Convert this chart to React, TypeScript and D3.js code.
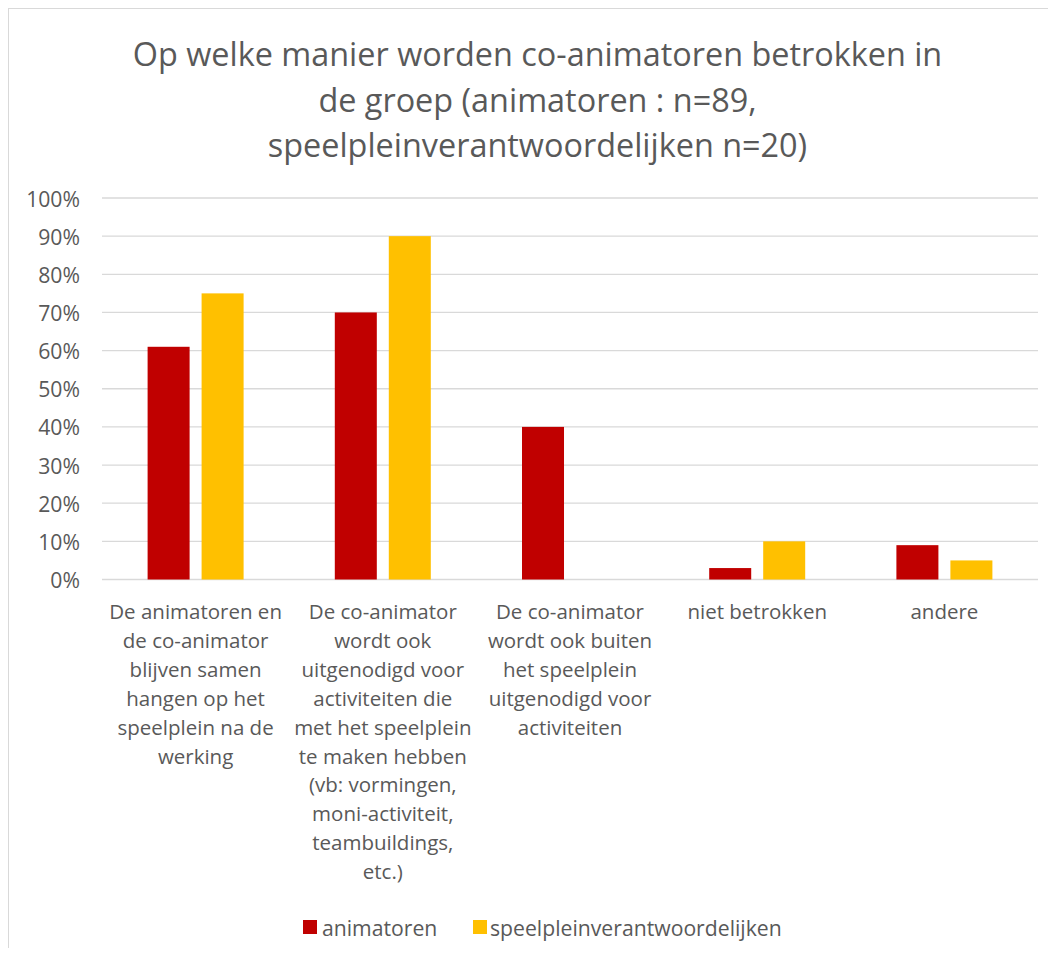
import React from "react";
import * as d3 from "d3";

const categories: string[][] = [
  ["De animatoren en", "de co-animator", "blijven samen", "hangen op het", "speelplein na de", "werking"],
  ["De co-animator", "wordt ook", "uitgenodigd voor", "activiteiten die", "met het speelplein", "te maken hebben", "(vb: vormingen,", "moni-activiteit,", "teambuildings,", "etc.)"],
  ["De co-animator", "wordt ook buiten", "het speelplein", "uitgenodigd voor", "activiteiten"],
  ["niet betrokken"],
  ["andere"],
];
const seriesNames = ["animatoren", "speelpleinverantwoordelijken"];
const animatoren = [0.61, 0.70, 0.40, 0.03, 0.09];
const verantwoordelijken = [0.75, 0.90, 0, 0.10, 0.05];
const seriesColors = ["#C00000", "#FFC000"];
const yTicks = [0, 0.1, 0.2, 0.3, 0.4, 0.5, 0.6, 0.7, 0.8, 0.9, 1.0];
const titleLines = [
  "Op welke manier worden co-animatoren betrokken in",
  "de groep (animatoren : n=89,",
  "speelpleinverantwoordelijken n=20)",
];

const FONT = "'Open Sans', sans-serif";
const TEXT = "#595959";

export default function App() {
  const W = 1040;
  const H = 940;
  const left = 94, right = 1030, top = 190, bottom = 571.5;
  const ids = categories.map((_, i) => String(i));
  const x0 = d3.scaleBand<string>().domain(ids).range([left, right]).padding(0);
  const groupW = 96;
  const x1 = d3.scaleBand<string>().domain(seriesNames).range([0, groupW]).paddingInner(0.222).paddingOuter(0);
  const y = d3.scaleLinear().domain([0, 1]).range([bottom, top]);
  const data = [animatoren, verantwoordelijken];
  const fmt = d3.format(".0%");
  const lineH = 28.9;

  return (
    <svg width={W} height={H} style={{ display: "block" }} fontFamily={FONT}>
      <rect x={0.5} y={0.5} width={1058} height={970} fill="#fff" stroke="#d9d9d9" strokeWidth={1} />
      {titleLines.map((t, i) => (
        <text key={i} x={529.5} y={45 + i * 45.5} textAnchor="middle" dominantBaseline="central" fontSize={32.4} fill={TEXT}>
          {t}
        </text>
      ))}
      {yTicks.map((t) => (
        <g key={t}>
          <line x1={left} x2={right} y1={y(t)} y2={y(t)} stroke="#d9d9d9" strokeWidth={1.3} />
          <text x={72} y={y(t)} textAnchor="end" dominantBaseline="central" fontSize={21.2} fill={TEXT}>
            {fmt(t)}
          </text>
        </g>
      ))}
      {data.map((vals, s) =>
        vals.map((v, i) => {
          const gx = (x0(ids[i]) as number) + (x0.bandwidth() - groupW) / 2 + (x1(seriesNames[s]) as number);
          return v > 0 ? (
            <rect key={`${s}-${i}`} x={gx} y={y(v)} width={x1.bandwidth()} height={bottom - y(v)} fill={seriesColors[s]} />
          ) : null;
        })
      )}
      {categories.map((lines, i) => (
        <text key={i} textAnchor="middle" fontSize={20.5} fill={TEXT}>
          {lines.map((l, j) => (
            <tspan key={j} x={(x0(ids[i]) as number) + x0.bandwidth() / 2} y={603 + j * lineH} dominantBaseline="central">
              {l}
            </tspan>
          ))}
        </text>
      ))}
      {[
        { sx: 295, tx: 314 },
        { sx: 465, tx: 482 },
      ].map((p, i) => (
        <g key={i}>
          <rect x={p.sx} y={912} width={14} height={14} fill={seriesColors[i]} />
          <text x={p.tx} y={919} dominantBaseline="central" fontSize={21.2} fill={TEXT}>
            {seriesNames[i]}
          </text>
        </g>
      ))}
    </svg>
  );
}
